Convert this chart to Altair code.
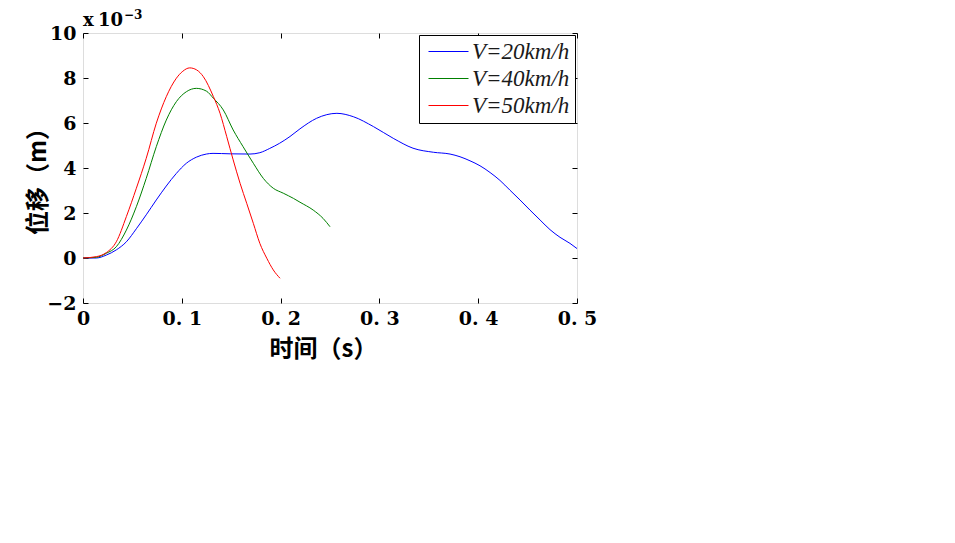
import altair as alt
import pandas as pd
import json

# ---------------- data (displacement in units of 1e-3 m) ----------------
series_names = ["V=20km/h", "V=40km/h", "V=50km/h"]
series_colors = ["#0000ff", "#008000", "#ff0000"]

t_20 = [0, 0.0135, 0.0236, 0.0337, 0.0439, 0.054, 0.064, 0.0742, 0.0843, 0.0945,
        0.1046, 0.1147, 0.1248, 0.1316, 0.149, 0.169, 0.179, 0.189, 0.199, 0.2095,
        0.2196, 0.2365, 0.257, 0.2736, 0.294, 0.314, 0.334, 0.3546, 0.3715, 0.3816,
        0.3917, 0.4018, 0.412, 0.422, 0.432, 0.4423, 0.4524, 0.4626, 0.4727, 0.4828,
        0.4929, 0.5]
v_20 = [0, 0.0, 0.13, 0.36, 0.72, 1.30, 1.92, 2.58, 3.20, 3.76,
        4.21, 4.48, 4.62, 4.65, 4.63, 4.62, 4.68, 4.87, 5.10, 5.40,
        5.74, 6.21, 6.43, 6.28, 5.84, 5.32, 4.88, 4.70, 4.62, 4.50,
        4.32, 4.10, 3.80, 3.45, 3.02, 2.58, 2.13, 1.69, 1.26, 0.92,
        0.65, 0.42]

t_40 = [0, 0.0135, 0.0236, 0.0337, 0.0439, 0.054, 0.064, 0.0742, 0.0843, 0.0945,
        0.1046, 0.1147, 0.1248, 0.132, 0.142, 0.152, 0.162, 0.1724, 0.1825, 0.1926,
        0.2027, 0.213, 0.2196, 0.233, 0.243, 0.25]
v_40 = [0, 0.03, 0.21, 0.50, 1.24, 2.28, 3.54, 4.95, 6.13, 6.95,
        7.39, 7.54, 7.42, 7.10, 6.58, 5.69, 4.95, 4.21, 3.54, 3.10,
        2.88, 2.65, 2.48, 2.13, 1.76, 1.39]

t_50 = [0, 0.0135, 0.0236, 0.0337, 0.0439, 0.054, 0.064, 0.0742, 0.0843, 0.0945,
        0.101, 0.108, 0.115, 0.1218, 0.132, 0.1387, 0.1455, 0.152, 0.159, 0.1657,
        0.1724, 0.179, 0.186, 0.1926, 0.1994]
v_50 = [0, 0.06, 0.24, 0.72, 1.84, 3.10, 4.43, 5.99, 7.17, 7.99,
        8.30, 8.45, 8.36, 8.06, 7.17, 6.43, 5.39, 4.36, 3.32, 2.43,
        1.54, 0.65, -0.01, -0.53, -0.90]

x_ticks = [0, 0.1, 0.2, 0.3, 0.4, 0.5]
x_tick_labels = ["0", "0. 1", "0. 2", "0. 3", "0. 4", "0. 5"]
y_ticks = [-2, 0, 2, 4, 6, 8, 10]
y_tick_labels = ["\u22122", "0", "2", "4", "6", "8", "10"]

x_title = "时间（s）"
y_title = "位移（m）"
exp_x = "x"
exp_base = "10"
exp_power = "\u22123"

# ---------------- table ----------------
rows = []
for name, ts, vs in zip(series_names, [t_20, t_40, t_50], [v_20, v_40, v_50]):
    for t, v in zip(ts, vs):
        rows.append({"series": name, "t": t, "v": v})
df = pd.DataFrame(rows)

NUM_FONT = "DejaVu Serif"
LEG_FONT = "Liberation Serif"
CJK_FONT = "Noto Sans CJK SC"

x_scale = alt.Scale(domain=[0, 0.5], nice=False, zero=False)
y_scale = alt.Scale(domain=[-2, 10], nice=False, zero=False)

x_label_expr = json.dumps(x_tick_labels) + "[round(datum.value*10)]"
y_label_expr = json.dumps(y_tick_labels, ensure_ascii=False) + "[round((datum.value+2)/2)]"

base = alt.Chart(df)

lines = base.mark_line(strokeWidth=1, interpolate="monotone").encode(
    x=alt.X("t:Q", scale=x_scale, axis=alt.Axis(
        orient="bottom", values=x_ticks, labelExpr=x_label_expr, tickSize=0,
        domain=False, grid=False, labelFont=NUM_FONT, labelFontSize=19,
        labelFontWeight="bold", labelColor="black", labelPadding=6,
        labelOverlap=False, labelFlush=False,
        title=x_title, titleFont=CJK_FONT, titleFontSize=24, titleFontWeight="bold",
        titleColor="black", titleX=240, titleY=34, titleBaseline="top")),
    y=alt.Y("v:Q", scale=y_scale, axis=alt.Axis(
        orient="left", values=y_ticks, labelExpr=y_label_expr, tickSize=0,
        domain=False, grid=False, labelFont=NUM_FONT, labelFontSize=19,
        labelFontWeight="bold", labelColor="black", labelPadding=7,
        labelOverlap=False, labelFlush=False,
        title=y_title, titleFont=CJK_FONT, titleFontSize=24, titleFontWeight="bold",
        titleColor="black", titleX=-33, titleY=142, titleBaseline="bottom", titleAngle=-90)),
    color=alt.Color("series:N", scale=alt.Scale(domain=series_names, range=series_colors),
                    legend=alt.Legend(
                        title=None, orient="none", legendX=336, legendY=2,
                        strokeColor="black", fillColor="white", padding=5,
                        symbolType="M-2,0H2", symbolSize=400, symbolStrokeWidth=1,
                        symbolOffset=13, labelOffset=12, rowPadding=3,
                        labelFont=LEG_FONT, labelFontSize=23, labelFontStyle="italic",
                        labelColor="#1a1a1a")),
)

ticks_bl = base.mark_point(opacity=0).encode(
    x=alt.X("t:Q", scale=x_scale, axis=alt.Axis(
        orient="bottom", offset=-5, tickSize=5, values=x_ticks, labels=False,
        domain=False, grid=False, title=None, tickColor="black")),
    y=alt.Y("v:Q", scale=y_scale, axis=alt.Axis(
        orient="left", offset=-5, tickSize=5, values=y_ticks, labels=False,
        domain=False, grid=False, title=None, tickColor="black")),
)

ticks_tr = base.mark_point(opacity=0).encode(
    x=alt.X("t:Q", scale=x_scale, axis=alt.Axis(
        orient="top", offset=-5, tickSize=5, values=x_ticks, labels=False,
        domain=False, grid=False, title=None, tickColor="black")),
    y=alt.Y("v:Q", scale=y_scale, axis=alt.Axis(
        orient="right", offset=-5, tickSize=5, values=y_ticks, labels=False,
        domain=False, grid=False, title=None, tickColor="black")),
)

txt_x = alt.Chart(pd.DataFrame({"s": [exp_x]})).mark_text(
    font=NUM_FONT, fontSize=18, fontWeight="bold", align="left", baseline="alphabetic",
    color="black").encode(text="s:N", x=alt.value(0), y=alt.value(-7))
txt_10 = alt.Chart(pd.DataFrame({"s": [exp_base]})).mark_text(
    font=NUM_FONT, fontSize=18, fontWeight="bold", align="left", baseline="alphabetic",
    color="black").encode(text="s:N", x=alt.value(15), y=alt.value(-7))
txt_p = alt.Chart(pd.DataFrame({"s": [exp_power]})).mark_text(
    font=NUM_FONT, fontSize=12, fontWeight="bold", align="left", baseline="alphabetic",
    color="black").encode(text="s:N", x=alt.value(41), y=alt.value(-14))

chart = alt.layer(lines, ticks_bl, ticks_tr, txt_x, txt_10, txt_p).resolve_axis(
    x="independent", y="independent"
).properties(
    width=494, height=270,
    autosize=alt.AutoSizeParams(type="none"),
    padding={"left": 75, "top": 25, "right": 300, "bottom": 200},
).configure_view(stroke="black", strokeWidth=1).configure(background="white")

chart.save("out.html", embed_options={"renderer": "svg", "actions": False})
